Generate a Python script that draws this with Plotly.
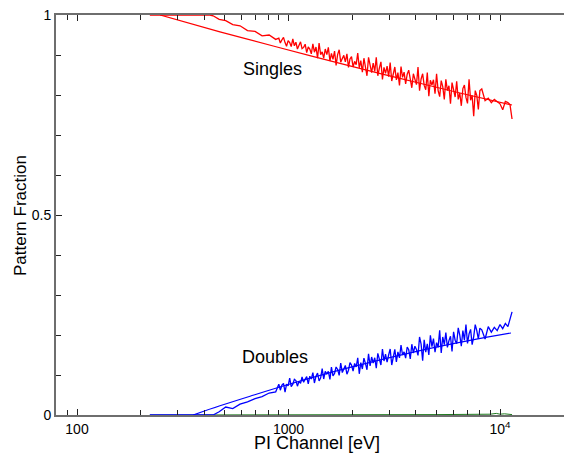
import math
import plotly.graph_objects as go

# PI channel energies (eV) shared by the Singles and Doubles measurements
energy = [221, 250, 280, 310, 340, 370, 400, 425,
          440, 470, 505, 545, 590, 640, 695, 750, 810, 870,
          900, 915, 931, 947, 963, 979, 996, 1013, 1030, 1048,
          1066, 1084, 1102, 1121, 1140, 1159, 1179, 1199, 1219, 1240,
          1261, 1282, 1304, 1326, 1349, 1372, 1395, 1419, 1443, 1467,
          1492, 1518, 1543, 1570, 1596, 1623, 1651, 1679, 1707, 1736,
          1766, 1796, 1826, 1857, 1889, 1921, 1953, 1986, 2020, 2054,
          2089, 2125, 2161, 2197, 2235, 2273, 2311, 2350, 2390, 2431,
          2472, 2514, 2557, 2600, 2644, 2689, 2735, 2781, 2828, 2876,
          2925, 2975, 3025, 3077, 3129, 3182, 3236, 3291, 3347, 3404,
          3461, 3520, 3580, 3641, 3702, 3765, 3829, 3894, 3960, 4027,
          4096, 4165, 4236, 4308, 4381, 4455, 4531, 4608, 4686, 4766,
          4847, 4929, 5013, 5098, 5185, 5273, 5362, 5453, 5546, 5640,
          5736, 5833, 5932, 6033, 6136, 6240, 6346, 6453, 6563, 6675,
          6788, 6903, 7020, 7140, 7261, 7384, 7510, 7637, 7767, 7899,
          8033,
          8200, 8500, 8800, 9100, 9400, 9700, 10000, 10300, 10600, 10900, 11150, 11400]

singles = [1.0, 1.0, 1.0, 1.0, 1.0, 1.0, 1.0, 1.0,
           0.998, 0.989, 0.986, 0.976, 0.973, 0.961, 0.959, 0.948, 0.950, 0.939,
           0.942, 0.930, 0.938, 0.944, 0.931, 0.922, 0.936, 0.931, 0.921, 0.940,
           0.923, 0.932, 0.915, 0.926, 0.933, 0.916, 0.919, 0.927, 0.906, 0.920,
           0.915, 0.903, 0.928, 0.907, 0.920, 0.892, 0.930, 0.901, 0.908, 0.892,
           0.915, 0.901, 0.919, 0.885, 0.904, 0.889, 0.910, 0.874, 0.901, 0.913,
           0.882, 0.891, 0.899, 0.883, 0.903, 0.869, 0.890, 0.896, 0.870, 0.884,
           0.876, 0.905, 0.868, 0.886, 0.857, 0.892, 0.872, 0.848, 0.894, 0.877,
           0.856, 0.880, 0.859, 0.894, 0.848, 0.867, 0.883, 0.839, 0.869, 0.854,
           0.872, 0.846, 0.881, 0.835, 0.854, 0.870, 0.838, 0.856, 0.824, 0.871,
           0.844, 0.857, 0.828, 0.852, 0.862, 0.833, 0.818, 0.853, 0.841, 0.826,
           0.870, 0.811, 0.840, 0.853, 0.824, 0.813, 0.856, 0.797, 0.837, 0.825,
           0.838, 0.803, 0.853, 0.811, 0.796, 0.836, 0.821, 0.789, 0.839, 0.811,
           0.823, 0.778, 0.831, 0.816, 0.795, 0.834, 0.789, 0.805, 0.773, 0.816,
           0.825, 0.794, 0.779, 0.839, 0.787, 0.799, 0.747, 0.811, 0.799, 0.764,
           0.811,
           0.815, 0.786, 0.792, 0.781, 0.789, 0.783, 0.778, 0.763, 0.784, 0.781, 0.776, 0.740]

doubles = [0.0, 0.0, 0.0, 0.0, 0.0, 0.0, 0.0, 0.0,
           0.000, 0.008, 0.020, 0.016, 0.027, 0.033, 0.041, 0.046, 0.055, 0.058,
           0.077, 0.062, 0.075, 0.079, 0.057, 0.077, 0.073, 0.092, 0.071, 0.077,
           0.089, 0.086, 0.072, 0.084, 0.079, 0.095, 0.082, 0.090, 0.096, 0.078,
           0.097, 0.090, 0.106, 0.080, 0.097, 0.105, 0.085, 0.093, 0.116, 0.090,
           0.109, 0.103, 0.109, 0.089, 0.120, 0.098, 0.104, 0.120, 0.114, 0.099,
           0.130, 0.106, 0.116, 0.124, 0.102, 0.112, 0.131, 0.125, 0.110, 0.129,
           0.120, 0.143, 0.103, 0.131, 0.115, 0.142, 0.129, 0.113, 0.153, 0.123,
           0.145, 0.130, 0.143, 0.117, 0.154, 0.141, 0.125, 0.165, 0.135, 0.152,
           0.132, 0.150, 0.165, 0.125, 0.146, 0.164, 0.133, 0.158, 0.143, 0.175,
           0.150, 0.158, 0.142, 0.170, 0.163, 0.140, 0.177, 0.155, 0.172, 0.164,
           0.149, 0.195, 0.177, 0.136, 0.188, 0.157, 0.178, 0.150, 0.199, 0.171,
           0.191, 0.157, 0.181, 0.169, 0.212, 0.155, 0.195, 0.176, 0.206, 0.169,
           0.186, 0.197, 0.159, 0.208, 0.187, 0.178, 0.218, 0.200, 0.172, 0.211,
           0.187, 0.226, 0.179, 0.203, 0.214, 0.176, 0.196, 0.226, 0.211, 0.190,
           0.217,
           0.213, 0.190, 0.221, 0.207, 0.219, 0.211, 0.226, 0.216, 0.229, 0.221, 0.237, 0.258]

# Higher-order patterns (near zero)
multi_energy = [221, 1000, 5000, 9000, 9600, 10000, 10500, 11400]
multiples = [0.0, 0.0, 0.001, 0.002, 0.004, 0.002, 0.003, 0.001]

# Model curves
model_s_energy = [247, 474, 882, 1752, 3367, 6469, 11397]
model_singles = [1.0, 0.958, 0.92, 0.879, 0.8415, 0.805, 0.775]
model_d_energy = [354, 474, 658, 1016, 1953, 4184, 7215, 11273]
model_doubles = [0.0, 0.023, 0.047, 0.0775, 0.119, 0.161, 0.1865, 0.205]

x_ticks = [100, 1000, 10000]
x_ticktext = ["100", "1000", "10<sup>4</sup>"]
x_minor = [80, 90, 200, 300, 400, 500, 600, 700, 800, 900,
           2000, 3000, 4000, 5000, 6000, 7000, 8000, 9000]
y_ticks = [0, 0.5, 1]
y_ticktext = ["0", "0.5", "1"]
y_minor = [0.1, 0.2, 0.3, 0.4, 0.6, 0.7, 0.8, 0.9]

x_log_range = [1.9007, 4.3026]

font = "Liberation Sans, Arial, sans-serif"
fig = go.Figure()
fig.add_trace(go.Scatter(x=multi_energy, y=multiples, mode="lines",
                         line=dict(color="#1f7a1f", width=1), showlegend=False))
fig.add_trace(go.Scatter(x=energy, y=singles, mode="lines",
                         line=dict(color="#ff0000", width=1.3), showlegend=False))
fig.add_trace(go.Scatter(x=model_s_energy, y=model_singles, mode="lines",
                         line=dict(color="#ff0000", width=1.2, shape="spline"), showlegend=False))
fig.add_trace(go.Scatter(x=energy, y=doubles, mode="lines",
                         line=dict(color="#0000ff", width=1.3), showlegend=False))
fig.add_trace(go.Scatter(x=model_d_energy, y=model_doubles, mode="lines",
                         line=dict(color="#0000ff", width=1.2, shape="spline"), showlegend=False))
# empty helper traces so the decorative log10 twin axes are drawn
fig.add_trace(go.Scatter(x=[], y=[], xaxis="x3", yaxis="y", mode="lines",
                         showlegend=False, hoverinfo="skip"))
fig.add_trace(go.Scatter(x=[], y=[], xaxis="x4", yaxis="y", mode="lines",
                         showlegend=False, hoverinfo="skip"))

fig.add_annotation(x=2.924, y=0.865, xref="x", yref="y", text="Singles", showarrow=False,
                   font=dict(family=font, size=18, color="black"))
fig.add_annotation(x=2.938, y=0.146, xref="x", yref="y", text="Doubles", showarrow=False,
                   font=dict(family=font, size=18, color="black"))
# axis titles
fig.add_annotation(x=0.5138, y=-0.069, xref="paper", yref="paper", text="PI Channel [eV]",
                   showarrow=False, xanchor="center", yanchor="middle",
                   font=dict(family=font, size=18, color="black"))
fig.add_annotation(x=-0.0709, y=0.5, xref="paper", yref="paper", text="Pattern Fraction",
                   showarrow=False, xanchor="center", yanchor="middle", textangle=-90,
                   font=dict(family=font, size=17, color="black"))

axis_col = "#6e6e6e"
tick_col = "#222222"
x_tickpos = [math.log10(v) for v in x_ticks]
x_minorpos = [math.log10(v) for v in x_minor]


def twin_axis(side, labels):
    return dict(overlaying="x", anchor="y", side=side, type="linear",
                range=x_log_range, tickmode="array",
                tickvals=x_tickpos, ticktext=x_ticktext, showticklabels=labels,
                ticks="inside", ticklen=6, tickcolor=tick_col, tickwidth=1.2,
                minor=dict(tickmode="array", tickvals=x_minorpos,
                           ticks="inside", ticklen=5, tickcolor=tick_col, tickwidth=1.2,
                           showgrid=False),
                showline=True, linecolor=axis_col, linewidth=2,
                showgrid=False, zeroline=False, tickfont=dict(size=14))


fig.update_layout(
    width=564, height=453,
    margin=dict(l=56, r=0, t=15, b=38),
    plot_bgcolor="white", paper_bgcolor="white",
    font=dict(family=font, size=14, color="black"),
    # data axis (logarithmic); its decorations are drawn by the linear twins below
    xaxis=dict(type="log", range=x_log_range, visible=False),
    xaxis3=twin_axis("bottom", True),
    xaxis4=twin_axis("top", False),
    yaxis=dict(range=[0, 1], tickmode="array", tickvals=y_ticks, ticktext=y_ticktext,
               ticks="inside", ticklen=6, tickcolor=tick_col, tickwidth=1,
               minor=dict(tickmode="array", tickvals=y_minor, ticks="inside",
                          ticklen=5, tickcolor=tick_col, tickwidth=1, showgrid=False),
               showline=True, linecolor=axis_col, linewidth=2,
               showgrid=False, zeroline=False, tickfont=dict(size=14)),
)

fig.write_html("out.html")
